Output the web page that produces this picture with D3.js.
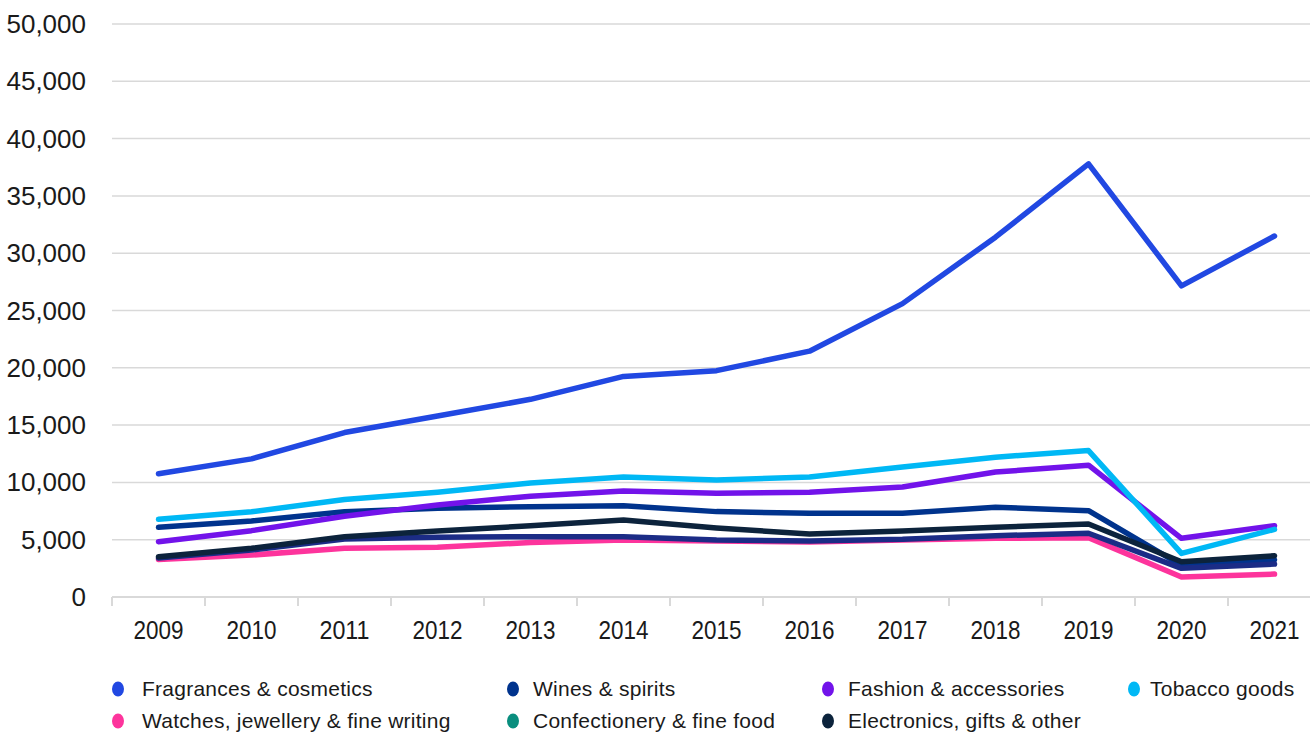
<!DOCTYPE html>
<html>
<head>
<meta charset="utf-8">
<script src="https://cdn.jsdelivr.net/npm/d3@7"></script>
<style>
  body { margin: 0; background: #fff; }
  text { font-family: "Liberation Sans", Arial, sans-serif; fill: #1a1a1a; }
</style>
</head>
<body>
<svg id="chart" width="1310" height="734"></svg>
<script>
// years on the x axis
var years = ["2009","2010","2011","2012","2013","2014","2015","2016","2017","2018","2019","2020","2021"]
var yTicks = [0,5000,10000,15000,20000,25000,30000,35000,40000,45000,50000]

// series values
var fragrances = [10750,12050,14350,15800,17250,19250,19750,21450,25600,31400,37800,27150,31500]
var wines = [6080,6630,7440,7740,7880,7970,7450,7300,7300,7830,7530,2750,3250]
var fashion = [4830,5790,7050,8030,8800,9250,9050,9150,9600,10900,11500,5120,6220]
var tobacco = [6780,7440,8500,9150,9950,10470,10200,10470,11350,12200,12780,3800,5900]
var watches = [3280,3660,4250,4340,4750,4970,4890,4800,4970,5120,5180,1750,2000]
var confectionery = [3400,4100,5060,5210,5260,5260,4970,4890,5030,5350,5560,2500,2870]
var electronics = [3520,4250,5260,5760,6220,6720,6020,5500,5760,6080,6370,3080,3600]

var series = [
  {name:"Fragrances & cosmetics", values:fragrances, color:"#2148e2", key:"#2148e2"},
  {name:"Wines & spirits", values:wines, color:"#00338d", key:"#00338d"},
  {name:"Fashion & accessories", values:fashion, color:"#7213ea", key:"#7213ea"},
  {name:"Tobacco goods", values:tobacco, color:"#00b8f5", key:"#00b8f5"},
  {name:"Watches, jewellery & fine writing", values:watches, color:"#fd349c", key:"#fd349c"},
  {name:"Confectionery & fine food", values:confectionery, color:"#1b2c86", key:"#098e7e"},
  {name:"Electronics, gifts & other", values:electronics, color:"#0c233c", key:"#0c233c"}
]

var svg = d3.select("#chart")

var x = d3.scaleBand().domain(years).range([112, 112 + 93*13])
var y = d3.scaleLinear().domain([0,50000]).range([597, 24])

// grid lines
svg.append("g").selectAll("line")
  .data(yTicks.filter(function(d){ return d > 0 }))
  .enter().append("line")
  .attr("x1", 112).attr("x2", 1310)
  .attr("y1", function(d){ return y(d) }).attr("y2", function(d){ return y(d) })
  .attr("stroke", "#d9d9d9").attr("stroke-width", 1.5)

// y labels
svg.append("g").selectAll("text")
  .data(yTicks)
  .enter().append("text")
  .attr("x", 86)
  .attr("y", function(d){ return y(d) + 9 })
  .attr("text-anchor", "end")
  .attr("font-size", 26)
  .text(function(d){ return d3.format(",")(d) })

// x axis
var xAxis = svg.append("g")
  .attr("transform", "translate(0," + y(0) + ")")
  .call(d3.axisBottom(x).tickSize(0).tickFormat(""))
xAxis.select(".domain").remove()
xAxis.append("line").attr("x1", 112).attr("x2", 1310).attr("y1", 0).attr("y2", 0)
  .attr("stroke", "#d9d9d9").attr("stroke-width", 2)
xAxis.selectAll(".tickmark")
  .data(years)
  .enter().append("line")
  .attr("class", "tickmark")
  .attr("x1", function(d){ return x(d) }).attr("x2", function(d){ return x(d) })
  .attr("y1", 0).attr("y2", 9)
  .attr("stroke", "#d9d9d9").attr("stroke-width", 2)
xAxis.selectAll(".lbl")
  .data(years)
  .enter().append("text")
  .attr("class", "lbl")
  .attr("x", function(d){ return x(d) + x.bandwidth()/2 })
  .attr("y", 42)
  .attr("text-anchor", "middle")
  .attr("font-size", 26)
  .attr("textLength", 50)
  .attr("lengthAdjust", "spacingAndGlyphs")
  .text(function(d){ return d })

// lines
var line = d3.line()
  .x(function(d,i){ return x(years[i]) + x.bandwidth()/2 })
  .y(function(d){ return y(d) })

svg.append("g").selectAll("path")
  .data(series)
  .enter().append("path")
  .attr("d", function(d){ return line(d.values) })
  .attr("fill", "none")
  .attr("stroke", function(d){ return d.color })
  .attr("stroke-width", 5.5)
  .attr("stroke-linecap", "round")
  .attr("stroke-linejoin", "round")

// legend
var legX = [118, 513, 828, 1134]
var legText = [24, 20, 20, 16]
var leg = svg.append("g").selectAll("g")
  .data(series)
  .enter().append("g")
  .attr("transform", function(d,i){ return "translate(" + legX[i % 4] + "," + (689 + Math.floor(i/4)*32) + ")" })
leg.append("ellipse").attr("rx", 6).attr("ry", 7.5).attr("fill", function(d){ return d.key })
leg.append("text")
  .attr("x", function(d,i){ return legText[i % 4] })
  .attr("y", 7)
  .attr("font-size", 21)
  .attr("letter-spacing", 0.25)
  .text(function(d){ return d.name })
</script>
</body>
</html>
